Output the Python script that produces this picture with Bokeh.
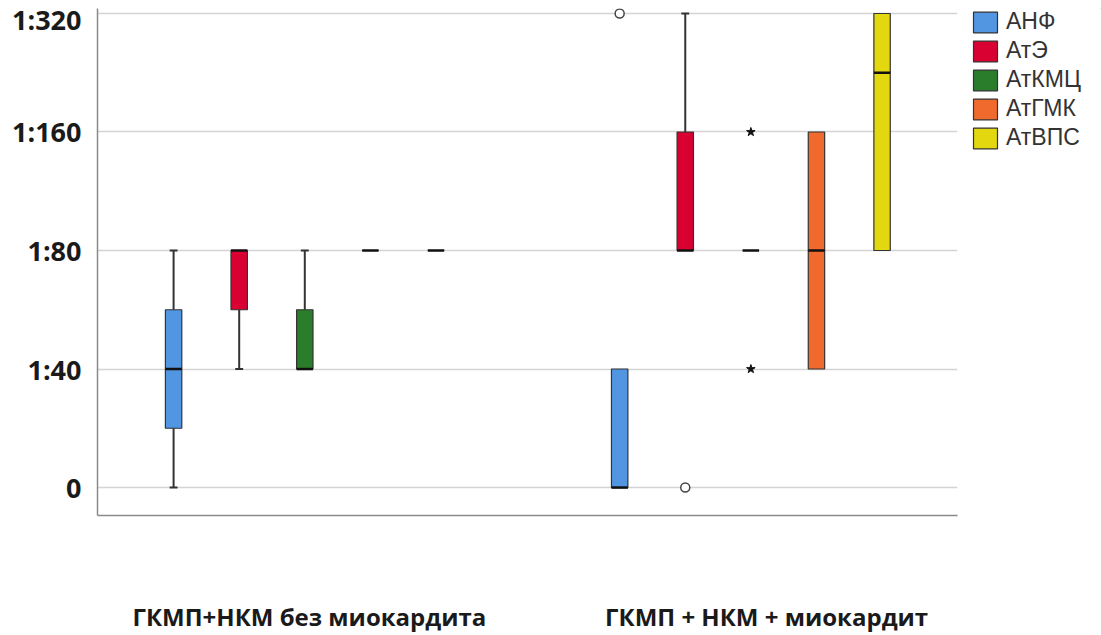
from bokeh.plotting import figure
from bokeh.layouts import row
from bokeh.models import (ColumnDataSource, FixedTicker, Range1d, Legend, LegendItem)
from bokeh.embed import file_html
from bokeh.resources import INLINE

# Antibody titres, coded as ordinal levels on the y axis
titre_labels = ["0", "1:40", "1:80", "1:160", "1:320"]
groups = ["ГКМП+НКМ без миокардита", "ГКМП + НКМ + миокардит"]
series = ["АНФ", "АтЭ", "АтКМЦ", "АтГМК", "АтВПС"]
colors = ["#5296E2", "#D90032", "#2A7D2B", "#F06A2D", "#E3D70F"]

# Box statistics per series, one value per group (level index)
whisk_lo = {"АНФ": [0, 0], "АтЭ": [1, 2], "АтКМЦ": [1, 2], "АтГМК": [2, 1], "АтВПС": [2, 2]}
q1 = {"АНФ": [0.5, 0], "АтЭ": [1.5, 2], "АтКМЦ": [1, 2], "АтГМК": [2, 1], "АтВПС": [2, 2]}
median = {"АНФ": [1, 0], "АтЭ": [2, 2], "АтКМЦ": [1, 2], "АтГМК": [2, 2], "АтВПС": [2, 3.5]}
q3 = {"АНФ": [1.5, 1], "АтЭ": [2, 3], "АтКМЦ": [1.5, 2], "АтГМК": [2, 3], "АтВПС": [2, 4]}
whisk_hi = {"АНФ": [2, 1], "АтЭ": [2, 4], "АтКМЦ": [2, 2], "АтГМК": [2, 3], "АтВПС": [2, 4]}

# Outliers (circles) and extreme values (stars): (series, group index, level)
outliers = [("АНФ", 1, 4), ("АтЭ", 1, 0)]
extremes = [("АтКМЦ", 1, 3), ("АтКМЦ", 1, 1)]

group_offset = [0.0, 6.8]
label_shift = [0.07, 0.24]
box_w = 0.25
cap_w = 0.12

def xpos(s, g):
    return group_offset[g] + series.index(s)

p = figure(width=970, height=635, output_backend="svg", toolbar_location=None,
           x_range=Range1d(-1.16, 11.95), y_range=Range1d(-0.236, 4.042),
           min_border_left=97, min_border_right=13, min_border_top=8,
           min_border_bottom=120)
p.outline_line_color = None
p.background_fill_color = "white"
p.border_fill_color = "white"

# grid
p.xgrid.grid_line_color = None
p.ygrid.grid_line_color = "#d4d4d4"
p.ygrid.grid_line_width = 1.5

# y axis with titre labels
p.yaxis.ticker = FixedTicker(ticks=list(range(len(titre_labels))))
p.yaxis.major_label_overrides = {i: t for i, t in enumerate(titre_labels)}
p.yaxis.major_label_text_font = "Open Sans"
p.yaxis.major_label_text_font_style = "bold"
p.yaxis.major_label_text_font_size = "27px"
p.yaxis.major_label_text_color = "#1a1a1a"
p.yaxis.major_label_standoff = 16
p.yaxis.major_tick_out = 0
p.yaxis.major_tick_in = 0
p.yaxis.minor_tick_out = 0
p.yaxis.minor_tick_in = 0
p.yaxis.axis_line_color = "#8a8a8a"
p.yaxis.axis_line_width = 1.5

# x axis with group names
centers = [group_offset[g] + (len(series) - 1) / 2 + label_shift[g] for g in range(len(groups))]
p.xaxis.ticker = FixedTicker(ticks=centers)
p.xaxis.major_label_overrides = {c: gname for c, gname in zip(centers, groups)}
p.xaxis.major_label_text_font = "Open Sans"
p.xaxis.major_label_text_font_style = "bold"
p.xaxis.major_label_text_font_size = "24px"
p.xaxis.major_label_text_color = "#1a1a1a"
p.xaxis.major_label_standoff = 84
p.xaxis.major_tick_out = 0
p.xaxis.major_tick_in = 0
p.xaxis.minor_tick_out = 0
p.xaxis.minor_tick_in = 0
p.xaxis.axis_line_color = "#8a8a8a"
p.xaxis.axis_line_width = 1.5

edge = "#333333"
for s, col in zip(series, colors):
    xs = [xpos(s, g) for g in range(len(groups))]
    # whiskers with caps
    wx, wy0, wy1 = [], [], []
    cx, cy = [], []
    for g, x in enumerate(xs):
        if whisk_hi[s][g] > q3[s][g]:
            wx.append(x); wy0.append(q3[s][g]); wy1.append(whisk_hi[s][g])
            cx.append(x); cy.append(whisk_hi[s][g])
        if whisk_lo[s][g] < q1[s][g]:
            wx.append(x); wy0.append(q1[s][g]); wy1.append(whisk_lo[s][g])
            cx.append(x); cy.append(whisk_lo[s][g])
    if wx:
        p.segment(x0=wx, y0=wy0, x1=wx, y1=wy1, line_color=edge, line_width=2)
        p.segment(x0=[x - cap_w / 2 for x in cx], y0=cy,
                  x1=[x + cap_w / 2 for x in cx], y1=cy,
                  line_color=edge, line_width=2)
    src = ColumnDataSource(dict(x=xs, bottom=q1[s], top=q3[s], med=median[s],
                                left=[x - box_w / 2 for x in xs],
                                right=[x + box_w / 2 for x in xs]))
    p.vbar(x="x", bottom="bottom", top="top", width=box_w, source=src,
           fill_color=col, line_color=edge, line_width=1.2)
    p.segment(x0="left", y0="med", x1="right", y1="med", source=src,
              line_color="#111111", line_width=2.5)

# outliers and extremes
p.scatter(x=[xpos(s, g) for s, g, _ in outliers], y=[v for _, _, v in outliers],
          marker="circle", size=9, fill_color="white", line_color="#444444",
          line_width=1.5)
p.scatter(x=[xpos(s, g) for s, g, _ in extremes], y=[v for _, _, v in extremes],
          marker="star", size=9, fill_color="#111111", line_color="#111111")

# legend panel beside the chart (swatch glyphs sit outside its visible range)
lg = figure(width=131, height=635, output_backend="svg", toolbar_location=None,
            x_axis_location=None, y_axis_location=None,
            x_range=Range1d(0, 1), y_range=Range1d(0, 1),
            min_border_left=0, min_border_right=0, min_border_top=0,
            min_border_bottom=0)
lg.outline_line_color = None
lg.grid.visible = False
items = []
for s, col in zip(series, colors):
    r = lg.vbar(x=[5], bottom=[5], top=[6], width=0.1, fill_color=col,
                line_color=edge, line_width=1.2)
    items.append(LegendItem(label=s, renderers=[r]))
legend = Legend(items=items, location="top_left",
                glyph_width=30, glyph_height=26, label_standoff=6,
                label_height=22, spacing=2, padding=0, margin=0,
                border_line_color=None, background_fill_alpha=0,
                label_text_font="Liberation Sans", label_text_font_size="23px",
                label_text_color="#333333")
lg.add_layout(legend, "center")

open("out.html", "w").write(file_html(row(p, lg, spacing=0), INLINE))
